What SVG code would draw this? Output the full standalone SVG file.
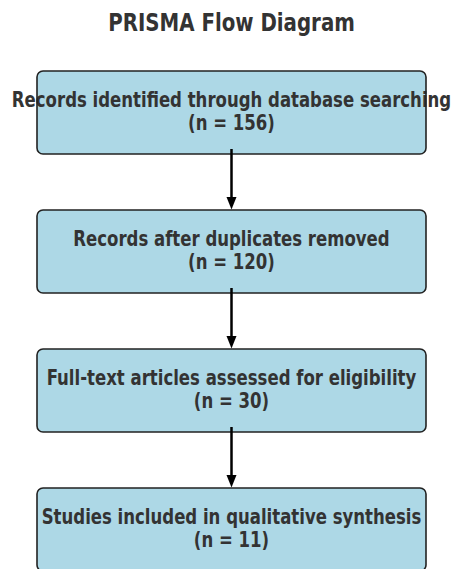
<svg xmlns="http://www.w3.org/2000/svg" width="454" height="569" viewBox="0 0 454 569">
<style>
.fill{fill:#ADD8E6;stroke:none}
.border{fill:none;stroke:#222;stroke-width:1.6}
.t{font-family:"DejaVu Sans Condensed","DejaVu Sans",sans-serif;font-stretch:condensed;font-weight:bold;font-size:18.4px;fill:#333;text-anchor:middle}
.title{font-family:"DejaVu Sans Condensed","DejaVu Sans",sans-serif;font-stretch:condensed;font-weight:bold;font-size:22px;fill:#333;text-anchor:middle}
.conn{stroke:#000;stroke-width:2.5;fill:none}
</style>
<rect width="454" height="569" fill="#fff"/>
<g transform="translate(231.5,31) scale(1,1.12)"><text class="title">PRISMA Flow Diagram</text></g>
<g id="n1">
<rect class="fill" x="37" y="71" width="389" height="83" rx="6"/>
<g transform="translate(231.5,107) scale(1,1.12)"><text class="t">Records identified through database searching</text></g>
<g transform="translate(231.5,129.5) scale(1,1.12)"><text class="t">(n = 156)</text></g>
<rect class="border" x="37" y="71" width="389" height="83" rx="6"/>
</g>
<g id="n2">
<rect class="fill" x="37" y="210" width="389" height="83" rx="6"/>
<g transform="translate(231.5,246) scale(1,1.12)"><text class="t">Records after duplicates removed</text></g>
<g transform="translate(231.5,268.5) scale(1,1.12)"><text class="t">(n = 120)</text></g>
<rect class="border" x="37" y="210" width="389" height="83" rx="6"/>
</g>
<g id="n3">
<rect class="fill" x="37" y="349" width="389" height="83" rx="6"/>
<g transform="translate(231.5,385) scale(1,1.12)"><text class="t">Full-text articles assessed for eligibility</text></g>
<g transform="translate(231.5,407.5) scale(1,1.12)"><text class="t">(n = 30)</text></g>
<rect class="border" x="37" y="349" width="389" height="83" rx="6"/>
</g>
<g id="n4">
<rect class="fill" x="37" y="488" width="389" height="83" rx="6"/>
<g transform="translate(231.5,524) scale(1,1.12)"><text class="t">Studies included in qualitative synthesis</text></g>
<g transform="translate(231.5,546.5) scale(1,1.12)"><text class="t">(n = 11)</text></g>
<rect class="border" x="37" y="488" width="389" height="83" rx="6"/>
</g>
<g id="connectors">
<line class="conn" x1="231.5" y1="149" x2="231.5" y2="199"/>
<path d="M226.5,197 L236.5,197 L231.5,209.5 Z" fill="#000"/>
<line class="conn" x1="231.5" y1="288" x2="231.5" y2="338"/>
<path d="M226.5,336 L236.5,336 L231.5,348.5 Z" fill="#000"/>
<line class="conn" x1="231.5" y1="427" x2="231.5" y2="477"/>
<path d="M226.5,475 L236.5,475 L231.5,487.5 Z" fill="#000"/>
</g>
</svg>
